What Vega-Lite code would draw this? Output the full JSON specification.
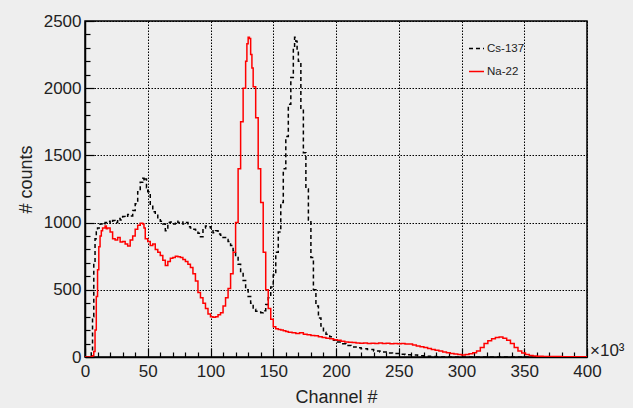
{
  "$schema": "https://vega.github.io/schema/vega-lite/v6.json",
  "width": 502,
  "height": 336,
  "autosize": {"type": "none"},
  "padding": {"top": 21, "left": 85, "right": 46, "bottom": 51},
  "background": "#eeeeee",
  "config": {
    "font": "Liberation Sans",
    "view": {"stroke": "#000000", "strokeWidth": 1.5},
    "axis": {
      "domainColor": "#000000",
      "domainWidth": 1.5,
      "tickColor": "#000000",
      "tickWidth": 1.2,
      "gridColor": "#000000",
      "gridDash": [1.5, 1.5],
      "gridWidth": 1,
      "labelColor": "#222222",
      "labelFontSize": 17,
      "labelOverlap": false,
      "labelFlush": false,
      "titleColor": "#222222",
      "titleFontSize": 18,
      "titleFontWeight": "normal"
    }
  },
  "resolve": {"axis": {"x": "independent", "y": "independent"}},
  "datasets": {
    "hist": [
      {"s":"Cs-137","ch":0,"n":0},{"s":"Cs-137","ch":2,"n":0},{"s":"Cs-137","ch":4,"n":5},{"s":"Cs-137","ch":5,"n":40},{"s":"Cs-137","ch":6,"n":300},{"s":"Cs-137","ch":7,"n":700},{"s":"Cs-137","ch":8,"n":880},{"s":"Cs-137","ch":9,"n":940},{"s":"Cs-137","ch":10,"n":960},{"s":"Cs-137","ch":12,"n":990},{"s":"Cs-137","ch":14,"n":985},{"s":"Cs-137","ch":16,"n":1000},{"s":"Cs-137","ch":18,"n":1010},{"s":"Cs-137","ch":20,"n":995},{"s":"Cs-137","ch":22,"n":1015},{"s":"Cs-137","ch":24,"n":1000},{"s":"Cs-137","ch":26,"n":1030},{"s":"Cs-137","ch":28,"n":1020},{"s":"Cs-137","ch":30,"n":1045},{"s":"Cs-137","ch":32,"n":1040},{"s":"Cs-137","ch":34,"n":1060},{"s":"Cs-137","ch":36,"n":1050},{"s":"Cs-137","ch":38,"n":1090},{"s":"Cs-137","ch":40,"n":1140},{"s":"Cs-137","ch":42,"n":1230},{"s":"Cs-137","ch":44,"n":1300},{"s":"Cs-137","ch":46,"n":1330},{"s":"Cs-137","ch":47,"n":1310},{"s":"Cs-137","ch":48,"n":1325},{"s":"Cs-137","ch":49,"n":1260},{"s":"Cs-137","ch":50,"n":1230},{"s":"Cs-137","ch":52,"n":1130},{"s":"Cs-137","ch":54,"n":1080},{"s":"Cs-137","ch":56,"n":1060},{"s":"Cs-137","ch":58,"n":1030},{"s":"Cs-137","ch":60,"n":1010},{"s":"Cs-137","ch":62,"n":990},{"s":"Cs-137","ch":64,"n":940},{"s":"Cs-137","ch":66,"n":1000},{"s":"Cs-137","ch":68,"n":1005},{"s":"Cs-137","ch":70,"n":990},{"s":"Cs-137","ch":72,"n":1010},{"s":"Cs-137","ch":74,"n":1000},{"s":"Cs-137","ch":76,"n":1005},{"s":"Cs-137","ch":78,"n":990},{"s":"Cs-137","ch":80,"n":1000},{"s":"Cs-137","ch":82,"n":970},{"s":"Cs-137","ch":84,"n":960},{"s":"Cs-137","ch":86,"n":950},{"s":"Cs-137","ch":88,"n":945},{"s":"Cs-137","ch":90,"n":920},{"s":"Cs-137","ch":92,"n":895},{"s":"Cs-137","ch":94,"n":960},{"s":"Cs-137","ch":96,"n":975},{"s":"Cs-137","ch":98,"n":970},{"s":"Cs-137","ch":100,"n":960},{"s":"Cs-137","ch":102,"n":925},{"s":"Cs-137","ch":104,"n":940},{"s":"Cs-137","ch":106,"n":915},{"s":"Cs-137","ch":108,"n":905},{"s":"Cs-137","ch":110,"n":890},{"s":"Cs-137","ch":112,"n":875},{"s":"Cs-137","ch":114,"n":860},{"s":"Cs-137","ch":116,"n":830},{"s":"Cs-137","ch":118,"n":790},{"s":"Cs-137","ch":120,"n":740},{"s":"Cs-137","ch":122,"n":690},{"s":"Cs-137","ch":124,"n":630},{"s":"Cs-137","ch":126,"n":570},{"s":"Cs-137","ch":128,"n":500},{"s":"Cs-137","ch":130,"n":450},{"s":"Cs-137","ch":132,"n":400},{"s":"Cs-137","ch":134,"n":355},{"s":"Cs-137","ch":136,"n":340},{"s":"Cs-137","ch":138,"n":335},{"s":"Cs-137","ch":140,"n":330},{"s":"Cs-137","ch":142,"n":345},{"s":"Cs-137","ch":144,"n":390},{"s":"Cs-137","ch":146,"n":440},{"s":"Cs-137","ch":148,"n":520},{"s":"Cs-137","ch":150,"n":610},{"s":"Cs-137","ch":152,"n":780},{"s":"Cs-137","ch":154,"n":930},{"s":"Cs-137","ch":156,"n":1150},{"s":"Cs-137","ch":158,"n":1400},{"s":"Cs-137","ch":160,"n":1640},{"s":"Cs-137","ch":162,"n":1880},{"s":"Cs-137","ch":164,"n":2080},{"s":"Cs-137","ch":166,"n":2300},{"s":"Cs-137","ch":167,"n":2380},{"s":"Cs-137","ch":168,"n":2350},{"s":"Cs-137","ch":169,"n":2280},{"s":"Cs-137","ch":170,"n":2200},{"s":"Cs-137","ch":172,"n":1850},{"s":"Cs-137","ch":174,"n":1520},{"s":"Cs-137","ch":176,"n":1250},{"s":"Cs-137","ch":178,"n":1020},{"s":"Cs-137","ch":180,"n":740},{"s":"Cs-137","ch":182,"n":500},{"s":"Cs-137","ch":184,"n":380},{"s":"Cs-137","ch":186,"n":290},{"s":"Cs-137","ch":188,"n":230},{"s":"Cs-137","ch":190,"n":185},{"s":"Cs-137","ch":192,"n":170},{"s":"Cs-137","ch":195,"n":150},{"s":"Cs-137","ch":198,"n":125},{"s":"Cs-137","ch":200,"n":112},{"s":"Cs-137","ch":204,"n":98},{"s":"Cs-137","ch":208,"n":85},{"s":"Cs-137","ch":212,"n":75},{"s":"Cs-137","ch":216,"n":68},{"s":"Cs-137","ch":220,"n":62},{"s":"Cs-137","ch":225,"n":55},{"s":"Cs-137","ch":230,"n":45},{"s":"Cs-137","ch":235,"n":38},{"s":"Cs-137","ch":240,"n":30},{"s":"Cs-137","ch":245,"n":26},{"s":"Cs-137","ch":250,"n":20},{"s":"Cs-137","ch":255,"n":16},{"s":"Cs-137","ch":260,"n":14},{"s":"Cs-137","ch":265,"n":9},{"s":"Cs-137","ch":270,"n":6},{"s":"Cs-137","ch":275,"n":4},{"s":"Cs-137","ch":280,"n":2},{"s":"Cs-137","ch":290,"n":0},{"s":"Cs-137","ch":400,"n":0},
      {"s":"Na-22","ch":0,"n":0},{"s":"Na-22","ch":4,"n":0},{"s":"Na-22","ch":6,"n":10},{"s":"Na-22","ch":7,"n":40},{"s":"Na-22","ch":8,"n":200},{"s":"Na-22","ch":9,"n":450},{"s":"Na-22","ch":10,"n":650},{"s":"Na-22","ch":11,"n":820},{"s":"Na-22","ch":12,"n":900},{"s":"Na-22","ch":13,"n":940},{"s":"Na-22","ch":14,"n":960},{"s":"Na-22","ch":16,"n":975},{"s":"Na-22","ch":17,"n":955},{"s":"Na-22","ch":18,"n":960},{"s":"Na-22","ch":20,"n":930},{"s":"Na-22","ch":22,"n":880},{"s":"Na-22","ch":24,"n":870},{"s":"Na-22","ch":26,"n":890},{"s":"Na-22","ch":28,"n":855},{"s":"Na-22","ch":30,"n":860},{"s":"Na-22","ch":32,"n":840},{"s":"Na-22","ch":34,"n":825},{"s":"Na-22","ch":36,"n":870},{"s":"Na-22","ch":38,"n":900},{"s":"Na-22","ch":40,"n":950},{"s":"Na-22","ch":42,"n":980},{"s":"Na-22","ch":44,"n":995},{"s":"Na-22","ch":46,"n":990},{"s":"Na-22","ch":47,"n":960},{"s":"Na-22","ch":48,"n":880},{"s":"Na-22","ch":50,"n":860},{"s":"Na-22","ch":52,"n":830},{"s":"Na-22","ch":54,"n":840},{"s":"Na-22","ch":56,"n":800},{"s":"Na-22","ch":58,"n":780},{"s":"Na-22","ch":60,"n":755},{"s":"Na-22","ch":62,"n":720},{"s":"Na-22","ch":64,"n":680},{"s":"Na-22","ch":66,"n":710},{"s":"Na-22","ch":68,"n":735},{"s":"Na-22","ch":70,"n":740},{"s":"Na-22","ch":72,"n":750},{"s":"Na-22","ch":74,"n":745},{"s":"Na-22","ch":76,"n":740},{"s":"Na-22","ch":78,"n":725},{"s":"Na-22","ch":80,"n":710},{"s":"Na-22","ch":82,"n":690},{"s":"Na-22","ch":84,"n":665},{"s":"Na-22","ch":86,"n":620},{"s":"Na-22","ch":88,"n":565},{"s":"Na-22","ch":90,"n":480},{"s":"Na-22","ch":92,"n":440},{"s":"Na-22","ch":94,"n":400},{"s":"Na-22","ch":96,"n":360},{"s":"Na-22","ch":98,"n":320},{"s":"Na-22","ch":100,"n":300},{"s":"Na-22","ch":102,"n":295},{"s":"Na-22","ch":104,"n":300},{"s":"Na-22","ch":106,"n":315},{"s":"Na-22","ch":108,"n":330},{"s":"Na-22","ch":110,"n":380},{"s":"Na-22","ch":112,"n":440},{"s":"Na-22","ch":114,"n":510},{"s":"Na-22","ch":116,"n":620},{"s":"Na-22","ch":118,"n":780},{"s":"Na-22","ch":120,"n":1000},{"s":"Na-22","ch":122,"n":1400},{"s":"Na-22","ch":124,"n":1750},{"s":"Na-22","ch":126,"n":2000},{"s":"Na-22","ch":128,"n":2200},{"s":"Na-22","ch":129,"n":2330},{"s":"Na-22","ch":130,"n":2380},{"s":"Na-22","ch":131,"n":2370},{"s":"Na-22","ch":132,"n":2250},{"s":"Na-22","ch":133,"n":2150},{"s":"Na-22","ch":134,"n":2010},{"s":"Na-22","ch":136,"n":1780},{"s":"Na-22","ch":138,"n":1400},{"s":"Na-22","ch":140,"n":1150},{"s":"Na-22","ch":142,"n":780},{"s":"Na-22","ch":144,"n":500},{"s":"Na-22","ch":146,"n":360},{"s":"Na-22","ch":148,"n":280},{"s":"Na-22","ch":150,"n":225},{"s":"Na-22","ch":152,"n":210},{"s":"Na-22","ch":154,"n":205},{"s":"Na-22","ch":156,"n":200},{"s":"Na-22","ch":158,"n":195},{"s":"Na-22","ch":160,"n":190},{"s":"Na-22","ch":162,"n":185},{"s":"Na-22","ch":165,"n":180},{"s":"Na-22","ch":168,"n":175},{"s":"Na-22","ch":171,"n":180},{"s":"Na-22","ch":174,"n":170},{"s":"Na-22","ch":177,"n":165},{"s":"Na-22","ch":180,"n":160},{"s":"Na-22","ch":183,"n":158},{"s":"Na-22","ch":186,"n":150},{"s":"Na-22","ch":189,"n":145},{"s":"Na-22","ch":192,"n":140},{"s":"Na-22","ch":195,"n":135},{"s":"Na-22","ch":198,"n":128},{"s":"Na-22","ch":201,"n":125},{"s":"Na-22","ch":204,"n":118},{"s":"Na-22","ch":207,"n":112},{"s":"Na-22","ch":210,"n":110},{"s":"Na-22","ch":213,"n":108},{"s":"Na-22","ch":216,"n":104},{"s":"Na-22","ch":219,"n":102},{"s":"Na-22","ch":222,"n":104},{"s":"Na-22","ch":225,"n":100},{"s":"Na-22","ch":228,"n":102},{"s":"Na-22","ch":231,"n":100},{"s":"Na-22","ch":234,"n":104},{"s":"Na-22","ch":237,"n":100},{"s":"Na-22","ch":240,"n":102},{"s":"Na-22","ch":243,"n":98},{"s":"Na-22","ch":246,"n":100},{"s":"Na-22","ch":249,"n":98},{"s":"Na-22","ch":252,"n":100},{"s":"Na-22","ch":255,"n":97},{"s":"Na-22","ch":258,"n":96},{"s":"Na-22","ch":261,"n":90},{"s":"Na-22","ch":264,"n":82},{"s":"Na-22","ch":267,"n":76},{"s":"Na-22","ch":270,"n":70},{"s":"Na-22","ch":273,"n":64},{"s":"Na-22","ch":276,"n":56},{"s":"Na-22","ch":279,"n":50},{"s":"Na-22","ch":282,"n":44},{"s":"Na-22","ch":285,"n":38},{"s":"Na-22","ch":288,"n":32},{"s":"Na-22","ch":291,"n":26},{"s":"Na-22","ch":294,"n":22},{"s":"Na-22","ch":297,"n":18},{"s":"Na-22","ch":300,"n":15},{"s":"Na-22","ch":303,"n":18},{"s":"Na-22","ch":306,"n":24},{"s":"Na-22","ch":309,"n":32},{"s":"Na-22","ch":312,"n":45},{"s":"Na-22","ch":315,"n":70},{"s":"Na-22","ch":318,"n":100},{"s":"Na-22","ch":321,"n":120},{"s":"Na-22","ch":324,"n":135},{"s":"Na-22","ch":327,"n":145},{"s":"Na-22","ch":330,"n":148},{"s":"Na-22","ch":333,"n":140},{"s":"Na-22","ch":336,"n":125},{"s":"Na-22","ch":339,"n":100},{"s":"Na-22","ch":342,"n":70},{"s":"Na-22","ch":345,"n":45},{"s":"Na-22","ch":348,"n":30},{"s":"Na-22","ch":351,"n":18},{"s":"Na-22","ch":354,"n":12},{"s":"Na-22","ch":357,"n":8},{"s":"Na-22","ch":360,"n":5},{"s":"Na-22","ch":365,"n":4},{"s":"Na-22","ch":370,"n":3},{"s":"Na-22","ch":380,"n":2},{"s":"Na-22","ch":390,"n":2},{"s":"Na-22","ch":400,"n":1}
    ]
  },
  "layer": [
    {
      "data": {"name": "hist"},
      "mark": {"type": "line", "interpolate": "step-after", "strokeWidth": 1.5, "clip": true},
      "encoding": {
        "x": {
          "field": "ch", "type": "quantitative",
          "scale": {"domain": [0, 400], "nice": false, "zero": false},
          "axis": {
            "orient": "bottom",
            "title": "Channel #",
            "titlePadding": 9,
            "values": [0, 50, 100, 150, 200, 250, 300, 350, 400],
            "tickSize": -9,
            "labelPadding": 15,
            "grid": true
          }
        },
        "y": {
          "field": "n", "type": "quantitative",
          "scale": {"domain": [0, 2500], "nice": false},
          "axis": {
            "orient": "left",
            "title": "# counts",
            "titlePadding": 8,
            "titleY": 158,
            "values": [0, 500, 1000, 1500, 2000, 2500],
            "format": "d",
            "tickSize": -9,
            "labelPadding": 13,
            "grid": true
          }
        },
        "color": {
          "field": "s", "type": "nominal",
          "scale": {"domain": ["Cs-137", "Na-22"], "range": ["#000000", "#ff0000"]},
          "legend": {"orient": "none", "legendX": 383, "legendY": 19, "title": null, "symbolType": "stroke", "symbolSize": 225, "symbolStrokeWidth": 1.5, "labelFontSize": 11.5, "labelOffset": 2, "rowPadding": 9, "labelColor": "#222222", "labelFont": "Liberation Sans"}
        },
        "strokeDash": {
          "field": "s", "type": "nominal",
          "scale": {"domain": ["Cs-137", "Na-22"], "range": [[4, 3], [1, 0]]},
          "legend": {"orient": "none", "legendX": 383, "legendY": 19, "title": null, "symbolType": "stroke", "symbolSize": 225, "symbolStrokeWidth": 1.5, "labelFontSize": 11.5, "labelOffset": 2, "rowPadding": 9, "labelColor": "#222222", "labelFont": "Liberation Sans"}
        }
      }
    },
    {
      "data": {"values": [{"t": "×10³"}]},
      "mark": {"type": "text", "align": "left", "baseline": "middle", "dx": 3, "dy": -6, "fontSize": 17, "color": "#222222", "font": "Liberation Sans"},
      "encoding": {
        "x": {
          "datum": 400, "type": "quantitative",
          "axis": {
            "orient": "bottom",
            "title": null,
            "labels": false,
            "domain": false,
            "grid": false,
            "tickSize": -5,
            "values": [10,20,30,40,60,70,80,90,110,120,130,140,160,170,180,190,210,220,230,240,260,270,280,290,310,320,330,340,360,370,380,390]
          }
        },
        "y": {
          "datum": 0, "type": "quantitative",
          "axis": {
            "orient": "left",
            "title": null,
            "labels": false,
            "domain": false,
            "grid": false,
            "tickSize": -5,
            "values": [100,200,300,400,600,700,800,900,1100,1200,1300,1400,1600,1700,1800,1900,2100,2200,2300,2400]
          }
        },
        "text": {"field": "t"}
      }
    }
  ]
}
